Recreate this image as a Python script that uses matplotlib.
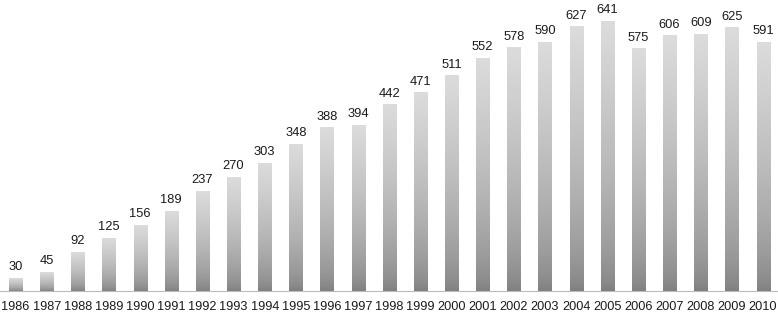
import matplotlib
import numpy as np

matplotlib.use('Agg')
import matplotlib.pyplot as plt  # noqa: E402

plt.rcParams['font.family'] = ['Liberation Sans', 'DejaVu Sans']

YEARS = list(range(1986, 2011))
COUNTS = [30, 45, 92, 125, 156, 189, 237, 270, 303, 348, 388, 394, 442, 471,
          511, 552, 578, 590, 627, 641, 575, 606, 609, 625, 591]

BAR_W = 0.42
TOP_GRAY = 0.86
BOTTOM_GRAY = 0.49

fig = plt.figure(figsize=(7.78, 3.14), dpi=100)
ax = fig.add_axes([0, 23 / 314, 1, 291 / 314])

# vertical gradient, light at the top, dark at the bottom
t = np.linspace(0, 1, 256)[:, None]          # 0 = bottom, 1 = top
grad = BOTTOM_GRAY + (TOP_GRAY - BOTTOM_GRAY) * t ** 0.6
cmap = plt.get_cmap('gray')

for i, v in enumerate(COUNTS):
    ax.imshow(grad, cmap=cmap, vmin=0, vmax=1, origin='lower', aspect='auto',
              extent=[i - BAR_W / 2, i + BAR_W / 2, 0, v], interpolation='bilinear',
              zorder=2)
    ax.text(i, v + 12, str(v), ha='center', va='bottom', fontsize=9.3,
            color='#1a1a1a')

ax.set_xlim(-0.5, 24.48)
ax.set_ylim(0, 691)
ax.set_xticks(range(len(YEARS)))
ax.set_xticklabels([str(y) for y in YEARS], fontsize=9.2, color='#1a1a1a')
ax.tick_params(axis='x', length=0, pad=7)
ax.set_yticks([])
for side in ['top', 'right', 'left']:
    ax.spines[side].set_visible(False)
ax.spines['bottom'].set_color('#bbbbbb')
ax.spines['bottom'].set_linewidth(0.8)

fig.savefig('out.png', dpi=100)
